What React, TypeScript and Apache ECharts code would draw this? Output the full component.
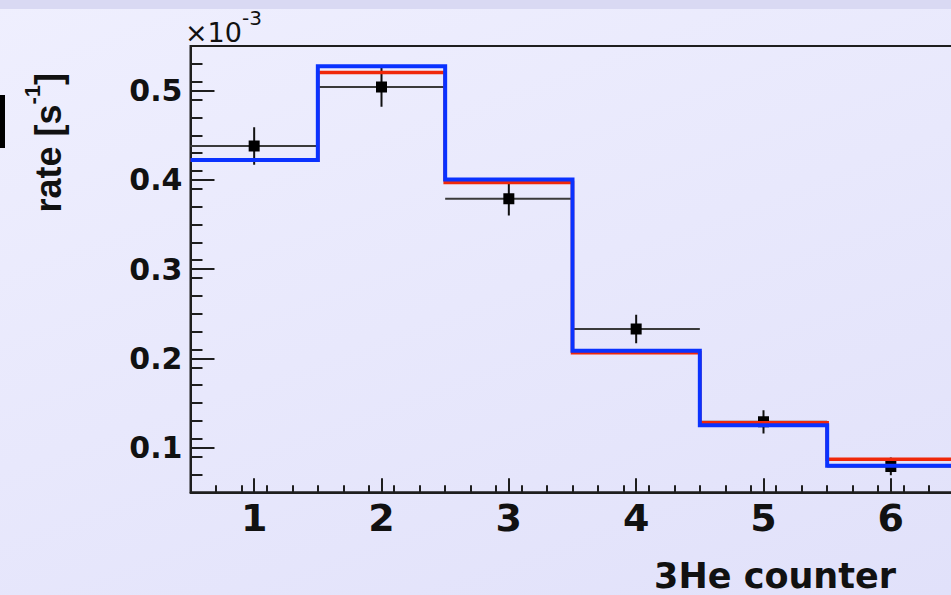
import React, { useEffect, useRef } from 'react';
import * as echarts from 'echarts';

// ---- data ----
const binCenters = [1, 2, 3, 4, 5, 6];
const binHalfWidth = 0.5;
const measuredRate = [0.438, 0.504, 0.379, 0.233, 0.129, 0.079];
const measuredError = [0.021, 0.022, 0.019, 0.016, 0.013, 0.01];
const redModel = [0.422, 0.5203, 0.397, 0.2064, 0.128, 0.087];
const blueModel = [0.4223, 0.5274, 0.4004, 0.2085, 0.125, 0.0797];

const xRange = [0.5, 6.5];
const yRange = [0.05, 0.55];
const xMajorTicks = [1, 2, 3, 4, 5, 6];
const yMajorTicks = [0.1, 0.2, 0.3, 0.4, 0.5];
const xMinorStep = 0.2;
const yMinorStep = 0.02;

const xTitle = '3He counter';
const yTitleMain = 'rate [s';
const yTitleSup = '-1';
const yTitleEnd = ']';
const exponentBase = '×10';
const exponentSup = '-3';

function minorTicks(min: number, max: number, step: number): number[] {
  const out: number[] = [];
  const n = Math.round((max - min) / step);
  for (let i = 1; i < n; i++) out.push(Math.round((min + i * step) * 10000) / 10000);
  return out;
}

function stepLine(values: number[]): number[][] {
  const pts: number[][] = [];
  values.forEach((v, i) => {
    pts.push([binCenters[i] - binHalfWidth, v]);
    pts.push([binCenters[i] + binHalfWidth, v]);
  });
  return pts;
}

const LABEL_FONT = '"DejaVu Sans", sans-serif';
const TITLE_FONT = '"Liberation Sans", Arial, sans-serif';
const AXIS_COLOR = '#1e1e1e';

export default function App() {
  const ref = useRef<HTMLDivElement>(null);

  useEffect(() => {
    if (!ref.current) return;
    const chart = echarts.init(ref.current, undefined, { renderer: 'svg' });

    const errorData = binCenters.map((x, i) => [x, measuredRate[i], binHalfWidth, measuredError[i]]);

    const option: any = {
      animation: false,
      backgroundColor: 'transparent',
      grid: {
        left: 190.5,
        right: 5.5,
        top: 46,
        bottom: 102.7,
        show: true,
        borderColor: AXIS_COLOR,
        borderWidth: 2,
        backgroundColor: 'transparent',
      },
      xAxis: [
        {
          type: 'value',
          min: xRange[0],
          max: xRange[1],
          position: 'bottom',
          axisLine: { show: true, onZero: false, lineStyle: { color: AXIS_COLOR, width: 2 } },
          axisTick: {
            show: true,
            inside: true,
            length: 14,
            customValues: xMajorTicks,
            lineStyle: { color: AXIS_COLOR, width: 2 },
          },
          axisLabel: {
            show: true,
            customValues: xMajorTicks,
            margin: 7,
            fontFamily: LABEL_FONT,
            fontWeight: 'bold',
            fontSize: 38,
            color: '#111',
          },
          splitLine: { show: false },
        },
        {
          type: 'value',
          min: xRange[0],
          max: xRange[1],
          position: 'bottom',
          axisLine: { show: false, onZero: false },
          axisTick: {
            show: true,
            inside: true,
            length: 7,
            customValues: minorTicks(xRange[0], xRange[1], xMinorStep),
            lineStyle: { color: AXIS_COLOR, width: 2 },
          },
          axisLabel: { show: false },
          splitLine: { show: false },
        },
      ],
      yAxis: [
        {
          type: 'value',
          min: yRange[0],
          max: yRange[1],
          position: 'left',
          axisLine: { show: true, onZero: false, lineStyle: { color: AXIS_COLOR, width: 2 } },
          axisTick: {
            show: true,
            inside: true,
            length: 24,
            customValues: yMajorTicks,
            lineStyle: { color: AXIS_COLOR, width: 2 },
          },
          axisLabel: {
            show: true,
            customValues: yMajorTicks,
            margin: 8,
            fontFamily: LABEL_FONT,
            fontWeight: 'bold',
            fontSize: 30,
            color: '#111',
          },
          splitLine: { show: false },
        },
        {
          type: 'value',
          min: yRange[0],
          max: yRange[1],
          position: 'left',
          axisLine: { show: false, onZero: false },
          axisTick: {
            show: true,
            inside: true,
            length: 12,
            customValues: minorTicks(yRange[0], yRange[1], yMinorStep),
            lineStyle: { color: AXIS_COLOR, width: 2 },
          },
          axisLabel: { show: false },
          splitLine: { show: false },
        },
      ],
      series: [
        {
          type: 'custom',
          name: 'data',
          xAxisIndex: 0,
          yAxisIndex: 0,
          z: 2,
          clip: true,
          encode: { x: 0, y: 1 },
          data: errorData,
          renderItem: (params: any, api: any) => {
            const x = api.value(0);
            const y = api.value(1);
            const xe = api.value(2);
            const ye = api.value(3);
            const c = api.coord([x, y]);
            const l = api.coord([x - xe, y]);
            const r = api.coord([x + xe, y]);
            const t = api.coord([x, y + ye]);
            const b = api.coord([x, y - ye]);
            return {
              type: 'group',
              children: [
                {
                  type: 'line',
                  shape: { x1: l[0], y1: c[1], x2: r[0], y2: c[1] },
                  style: { stroke: '#3a3a3a', lineWidth: 2 },
                },
                {
                  type: 'line',
                  shape: { x1: c[0], y1: t[1], x2: c[0], y2: b[1] },
                  style: { stroke: '#111', lineWidth: 2 },
                },
                {
                  type: 'rect',
                  shape: { x: c[0] - 5.5, y: c[1] - 5.5, width: 11, height: 11 },
                  style: { fill: '#000' },
                },
              ],
            };
          },
        },
        {
          type: 'line',
          name: 'red',
          z: 3,
          showSymbol: false,
          symbol: 'none',
          clip: true,
          data: stepLine(redModel),
          lineStyle: { color: '#f0280a', width: 3.5, join: 'miter', cap: 'butt' },
        },
        {
          type: 'line',
          name: 'blue',
          z: 4,
          showSymbol: false,
          symbol: 'none',
          clip: true,
          data: stepLine(blueModel),
          lineStyle: { color: '#0a32ff', width: 4, join: 'miter', cap: 'butt' },
        },
      ],
      graphic: [
        {
          type: 'rect',
          shape: { x: 0, y: 0, width: 960, height: 9 },
          style: { fill: '#d9d9f3' },
          silent: true,
        },
        {
          type: 'rect',
          shape: { x: 0, y: 95, width: 5, height: 53 },
          style: { fill: '#000' },
          silent: true,
        },
        {
          type: 'text',
          x: 66.5,
          y: 212.5,
          rotation: Math.PI / 2,
          style: {
            text: `{m|${yTitleMain}}{s|${yTitleSup}}{m|${yTitleEnd}}`,
            textAlign: 'left',
            verticalAlign: 'bottom',
            fill: '#111',
            rich: {
              m: {
                fontFamily: TITLE_FONT,
                fontWeight: 'bold',
                fontSize: 36,
                verticalAlign: 'bottom',
                fill: '#111',
              },
              s: {
                fontFamily: TITLE_FONT,
                fontWeight: 'bold',
                fontSize: 22,
                verticalAlign: 'bottom',
                padding: [0, 0, 23, 0],
                fill: '#111',
              },
            },
          },
          silent: true,
        },
        {
          type: 'text',
          x: 185,
          y: 46.4,
          style: {
            text: `{m|${exponentBase}}{s|${exponentSup}}`,
            textAlign: 'left',
            verticalAlign: 'bottom',
            fill: '#111',
            rich: {
              m: {
                fontFamily: LABEL_FONT,
                fontSize: 27,
                verticalAlign: 'bottom',
                fill: '#111',
              },
              s: {
                fontFamily: LABEL_FONT,
                fontSize: 20,
                verticalAlign: 'bottom',
                padding: [0, 0, 18, 0],
                fill: '#111',
              },
            },
          },
          silent: true,
        },
        {
          type: 'text',
          x: 896,
          y: 576,
          style: {
            text: xTitle,
            textAlign: 'right',
            verticalAlign: 'middle',
            fontFamily: LABEL_FONT,
            fontWeight: 'bold',
            fontSize: 35,
            lineHeight: 34,
            fill: '#111',
          },
          silent: true,
        },
      ],
    };

    chart.setOption(option);
    return () => chart.dispose();
  }, []);

  return (
    <div
      style={{
        position: 'fixed',
        left: 0,
        top: 0,
        width: 951,
        height: 595,
        overflow: 'hidden',
        background: 'linear-gradient(160deg, #efeffe 0%, #e8e8fc 50%, #e1e1fa 100%)',
      }}
    >
      <div ref={ref} style={{ width: 960, height: 595 }} />
    </div>
  );
}
